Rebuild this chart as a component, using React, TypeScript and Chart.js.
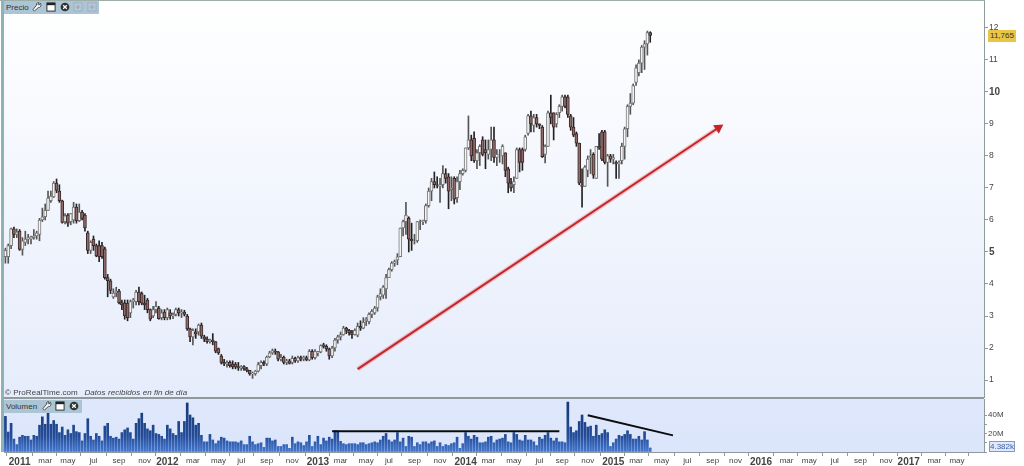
import React, { useEffect, useRef } from "react";
import { Chart, registerables } from "chart.js";

Chart.register(...registerables);

// [open, high, low, close] weekly candles
const candles2010 = [
  [4.85, 5.12, 4.65, 5.05], [4.85, 5.25, 4.65, 5.2], [5.2, 5.75, 5.1, 5.72], [5.72, 5.78, 5.45, 5.55], [5.55, 5.72, 5.45, 5.62],
];
const candles2011 = [
  [5.65, 5.7, 5.05, 5.08], [5.08, 5.45, 4.9, 5.35], [5.3, 5.65, 5.2, 5.4], [5.4, 5.55, 5.25, 5.45], [5.4, 5.5, 5.25, 5.47],
  [5.45, 5.7, 5.4, 5.5], [5.5, 5.65, 5.4, 5.6], [5.55, 6.05, 5.35, 6.0], [6.0, 6.37, 5.95, 6.1], [6.1, 6.5, 6.0, 6.3],
  [6.3, 6.9, 6.3, 6.68], [6.6, 6.9, 6.55, 6.75], [6.72, 7.2, 6.7, 7.15], [7.15, 7.28, 6.85, 6.92], [6.9, 7.1, 6.55, 6.6],
  [6.6, 6.62, 5.9, 5.92], [5.95, 6.2, 5.88, 6.13], [6.15, 6.2, 5.8, 5.9], [5.95, 6.2, 5.85, 6.2], [6.0, 6.55, 5.9, 6.4],
  [6.4, 6.5, 5.9, 5.98], [5.98, 6.5, 5.95, 6.25], [6.25, 6.3, 6.0, 6.05], [6.15, 6.2, 5.65, 5.75], [5.6, 5.65, 4.95, 5.05],
  [5.05, 5.35, 4.95, 5.3], [5.4, 5.5, 5.05, 5.2], [5.2, 5.25, 4.85, 4.88], [5.2, 5.35, 4.7, 4.85], [5.2, 5.3, 4.8, 4.85],
  [5.1, 5.15, 4.15, 4.2], [4.2, 4.3, 3.6, 4.1], [4.1, 4.15, 3.7, 3.8], [3.6, 3.85, 3.55, 3.72], [3.72, 3.9, 3.6, 3.78],
  [3.78, 3.83, 3.38, 3.42], [3.42, 3.5, 3.2, 3.35], [3.4, 3.5, 2.9, 3.0], [3.4, 3.5, 2.85, 2.95], [3.1, 3.5, 2.95, 3.45],
  [3.45, 3.55, 3.25, 3.5], [3.45, 3.8, 3.35, 3.75], [3.75, 3.9, 3.35, 3.45], [3.7, 3.75, 3.35, 3.4], [3.4, 3.65, 3.2, 3.35],
  [3.5, 3.55, 3.1, 3.2], [3.2, 3.22, 2.85, 2.9], [3.0, 3.3, 2.95, 3.2], [3.2, 3.45, 3.1, 3.3], [3.25, 3.3, 2.9, 2.92],
  [2.95, 3.2, 2.88, 3.1], [3.12, 3.2, 2.88, 2.95],
];
const candles2012 = [
  [2.95, 3.25, 2.88, 3.2], [3.1, 3.2, 2.9, 3.0], [3.0, 3.1, 2.92, 3.05], [3.05, 3.25, 3.0, 3.2], [3.2, 3.25, 3.0, 3.1],
  [3.1, 3.2, 2.95, 3.12], [3.12, 3.18, 3.0, 3.05], [3.0, 3.05, 2.55, 2.6], [2.6, 2.62, 2.2, 2.35], [2.35, 2.6, 2.1, 2.55],
  [2.5, 2.6, 2.3, 2.45], [2.5, 2.75, 2.4, 2.72], [2.72, 2.78, 2.3, 2.37], [2.35, 2.4, 2.2, 2.28], [2.28, 2.35, 2.15, 2.2],
  [2.2, 2.28, 2.15, 2.25], [2.25, 2.45, 2.1, 2.2], [2.2, 2.2, 1.85, 1.9], [1.98, 2.0, 1.8, 1.85], [1.75, 1.8, 1.5, 1.55],
  [1.55, 1.65, 1.45, 1.5], [1.5, 1.6, 1.4, 1.55], [1.55, 1.6, 1.4, 1.45], [1.5, 1.6, 1.35, 1.42], [1.5, 1.55, 1.35, 1.4],
  [1.42, 1.55, 1.3, 1.38], [1.38, 1.45, 1.3, 1.42], [1.42, 1.45, 1.3, 1.35], [1.35, 1.4, 1.25, 1.3], [1.3, 1.3, 1.15, 1.2],
  [1.2, 1.25, 1.05, 1.22], [1.2, 1.3, 1.15, 1.28], [1.28, 1.55, 1.25, 1.48], [1.45, 1.6, 1.35, 1.55], [1.55, 1.6, 1.45, 1.5],
  [1.5, 1.75, 1.45, 1.72], [1.72, 1.9, 1.7, 1.85], [1.85, 1.97, 1.8, 1.92], [1.9, 1.97, 1.8, 1.88], [1.88, 1.9, 1.6, 1.65],
  [1.65, 1.8, 1.6, 1.7], [1.72, 1.75, 1.5, 1.55], [1.55, 1.65, 1.48, 1.6], [1.6, 1.65, 1.5, 1.52], [1.55, 1.75, 1.5, 1.68],
  [1.68, 1.72, 1.55, 1.6], [1.6, 1.75, 1.55, 1.7], [1.7, 1.75, 1.6, 1.65], [1.65, 1.75, 1.6, 1.72], [1.7, 1.75, 1.6, 1.63],
  [1.63, 1.95, 1.6, 1.9], [1.9, 1.95, 1.65, 1.7], [1.7, 1.95, 1.65, 1.9],
];
const candles2013 = [
  [1.85, 1.9, 1.75, 1.88], [1.88, 2.1, 1.85, 2.08], [2.1, 2.15, 2.0, 2.05], [2.05, 2.1, 1.9, 1.97], [1.97, 2.0, 1.65, 1.75],
  [1.75, 2.05, 1.7, 2.0], [2.0, 2.3, 1.9, 2.25], [2.25, 2.4, 2.15, 2.35], [2.35, 2.5, 2.25, 2.42], [2.42, 2.68, 2.4, 2.62],
  [2.62, 2.65, 2.45, 2.55], [2.55, 2.58, 2.4, 2.48], [2.48, 2.55, 2.3, 2.42], [2.42, 2.6, 2.4, 2.55], [2.4, 2.78, 2.35, 2.68],
  [2.68, 2.85, 2.55, 2.62], [2.62, 2.95, 2.6, 2.8], [2.85, 2.95, 2.7, 2.9], [2.82, 3.1, 2.75, 3.05], [3.05, 3.2, 2.95, 3.15],
  [3.1, 3.3, 3.05, 3.25], [3.25, 3.65, 3.15, 3.6], [3.6, 3.85, 3.5, 3.7], [3.65, 3.95, 3.55, 3.9], [3.85, 4.3, 3.55, 4.2],
  [4.2, 4.5, 4.2, 4.45], [4.45, 4.7, 4.4, 4.65], [4.65, 4.75, 4.55, 4.7], [4.75, 4.95, 4.6, 4.85], [4.85, 5.75, 4.85, 5.75],
  [5.75, 6.0, 5.5, 5.95], [5.95, 6.55, 5.55, 6.15], [6.05, 6.1, 5.0, 5.4], [5.4, 5.9, 5.05, 5.35], [5.35, 5.55, 5.25, 5.35],
  [5.35, 5.95, 5.3, 5.95], [5.95, 6.0, 5.7, 5.95], [5.95, 6.0, 5.85, 5.98], [5.98, 6.5, 5.9, 6.45], [6.45, 7.0, 6.4, 6.9],
  [6.9, 7.3, 6.6, 7.2], [7.2, 7.5, 7.0, 7.1], [7.1, 7.35, 7.0, 7.08], [7.05, 7.3, 6.55, 7.1], [7.1, 7.7, 7.0, 7.45],
  [7.45, 7.6, 7.15, 7.3], [7.35, 7.45, 6.35, 6.9], [6.95, 7.35, 6.6, 7.0], [7.3, 7.35, 6.5, 6.65], [6.7, 7.35, 6.55, 7.2],
  [7.2, 7.55, 6.95, 7.45], [7.45, 7.6, 7.4, 7.55],
];
const candles2014 = [
  [7.55, 8.25, 7.5, 8.25], [8.25, 9.25, 8.2, 8.5], [8.5, 8.65, 7.85, 8.0], [8.55, 8.75, 7.8, 7.85], [7.85, 8.2, 7.6, 8.1],
  [8.1, 8.35, 7.7, 8.3], [8.5, 8.6, 8.0, 8.05], [8.2, 8.5, 7.6, 8.1], [8.05, 8.5, 7.9, 8.2], [8.2, 8.9, 7.85, 8.5],
  [8.5, 8.9, 7.8, 7.95], [7.95, 8.2, 7.7, 8.05], [8.05, 8.2, 7.8, 8.05], [8.0, 8.35, 7.75, 8.3], [8.1, 8.1, 7.35, 7.55],
  [7.6, 7.65, 6.85, 7.15], [7.15, 7.3, 6.9, 7.0], [7.1, 7.35, 6.85, 7.2], [7.3, 8.25, 7.3, 8.2], [8.2, 8.25, 7.5, 7.8],
  [8.2, 8.25, 7.55, 7.8], [8.2, 8.65, 8.15, 8.6], [8.7, 9.3, 8.65, 9.25], [9.25, 9.4, 8.75, 9.0], [8.95, 9.3, 8.75, 9.2],
  [9.2, 9.3, 8.9, 9.0], [9.0, 9.0, 8.85, 8.95], [8.9, 8.95, 7.95, 7.98], [8.05, 8.35, 7.78, 8.3], [8.3, 9.4, 8.3, 9.35],
  [9.35, 9.9, 9.0, 9.2], [9.35, 9.35, 8.5, 8.9], [9.0, 9.35, 8.9, 9.3], [9.35, 9.6, 9.2, 9.55], [9.55, 9.9, 9.4, 9.85],
  [9.85, 9.9, 9.5, 9.55], [9.85, 9.9, 9.2, 9.3], [9.25, 9.3, 8.8, 8.9], [8.9, 9.2, 8.6, 8.65], [8.7, 8.75, 8.3, 8.4],
  [8.4, 8.4, 7.1, 7.15], [7.1, 7.6, 6.4, 7.05], [7.05, 7.7, 7.05, 7.65], [7.55, 8.0, 7.35, 7.9], [7.95, 8.2, 7.45, 8.0],
  [8.05, 8.1, 7.3, 7.4], [7.3, 8.3, 7.3, 8.3], [8.3, 8.7, 8.2, 8.25], [8.75, 8.8, 7.85, 7.9], [8.75, 8.8, 7.75, 7.8],
  [7.8, 8.05, 7.05, 8.0], [8.0, 8.05, 7.8, 7.9],
];
const candles2015 = [
  [7.9, 8.05, 7.75, 7.95], [7.8, 7.85, 7.3, 7.75], [7.75, 7.85, 7.3, 7.8], [7.85, 8.4, 7.75, 8.3], [8.3, 8.9, 7.9, 8.85],
  [8.85, 9.6, 8.6, 9.55], [9.55, 9.95, 9.3, 9.65], [9.65, 10.25, 9.6, 10.2], [10.3, 10.85, 10.2, 10.75], [10.6, 11.0, 10.5, 10.9],
  [10.9, 11.45, 10.6, 11.4], [11.4, 11.6, 10.7, 11.5], [11.5, 11.9, 11.15, 11.85], [11.85, 11.88, 11.55, 11.765],
];

// weekly volume in millions
const volume2010 = [38.5, 21.6, 31, 14, 8];
const volume2011 = [16, 18, 17, 17, 13, 18, 17, 29, 38, 30, 42, 30, 34, 30, 21, 27, 18, 24, 20, 29, 22, 21, 12, 20, 36, 17, 13, 20, 17, 12, 28, 31, 17, 15, 16, 14, 21, 24, 26, 21, 14, 31, 36, 42, 31, 25, 23, 29, 20, 19, 17, 14];
const volume2012 = [29, 25, 20, 18, 33, 21, 33, 53, 40, 37, 29, 31, 18, 11, 11, 19, 13, 9, 12, 16, 15, 12, 11, 11, 11, 10, 12, 8, 8, 17, 11, 8, 9, 10, 5, 15, 15, 12, 13, 6, 6, 8, 8, 4, 16, 9, 11, 10, 7, 11, 18, 6, 11];
const volume2013 = [17, 8, 15, 12, 16, 14, 23, 23, 11.5, 9, 8, 9, 9, 9, 8, 10, 10, 8, 9, 10, 11, 10, 13, 17, 20, 13, 11, 13, 21, 11, 15, 6, 17, 16, 6, 10, 8, 11, 11, 9, 11, 12, 6, 10, 6, 8, 7, 9, 10, 16, 4, 9];
const volume2014 = [21, 17, 14, 18, 16, 10, 10, 11, 16, 17, 10, 13, 14, 15, 19, 11, 10, 21, 19, 13, 12, 18, 13, 13, 11, 7, 16, 14, 18, 21, 15, 12, 15, 11, 11, 10, 54, 27, 21, 23, 33, 40, 32, 27, 28, 17, 29, 18, 20, 24, 21, 6];
const volume2015 = [10, 14, 18, 17, 19, 23, 19, 14, 14, 17, 13, 22, 13, 4.382];

// annotations: [week index, value]
const trendArrow = [[124, 1.34], [251, 8.88]];
const flatVolumeLine = [[115, 22.4], [195, 22.4]];
const fallingVolumeLine = [[205, 39.7], [235, 18]];

const monthNames = ["ene", "feb", "mar", "abr", "may", "jun", "jul", "ago", "sep", "oct", "nov", "dic"];
const boldPriceTicks = [5, 10];
const labelledVolumeTicks = [20, 40];
const WEEK_COUNT = 345;

const candles = [...candles2010, ...candles2011, ...candles2012, ...candles2013, ...candles2014, ...candles2015];
const volumes = [...volume2010, ...volume2011, ...volume2012, ...volume2013, ...volume2014, ...volume2015];

const weekLabels: string[] = [];
const tickText: Record<string, string> = {};
for (let i = 0; i < WEEK_COUNT; i++) {
  const d = new Date(Date.UTC(2010, 10, 29 + i * 7));
  const key = d.toISOString().slice(0, 10);
  weekLabels.push(key);
  const y = d.getUTCFullYear();
  const m = d.getUTCMonth();
  if (d.getUTCDate() <= 7 && m % 2 === 0 && y >= 2011 && (y < 2017 || m <= 4)) {
    tickText[key] = m === 0 ? String(y) : monthNames[m];
  }
}

const FONT = '"Liberation Sans", Arial, sans-serif';
const AXIS = "#8f9a9c";
const TEXT = "#444444";
const line = (pts: number[][]) => pts.map(([i, v]) => ({ x: weekLabels[i], y: v }));

const paneBackground = (top: string, bottom: string) => ({
  id: "paneBackground",
  beforeDraw(chart: any) {
    const { ctx, chartArea: a } = chart;
    const g = ctx.createLinearGradient(0, a.top, 0, a.bottom);
    g.addColorStop(0, top);
    g.addColorStop(1, bottom);
    ctx.save();
    ctx.fillStyle = g;
    ctx.fillRect(a.left, a.top, a.right - a.left, a.bottom - a.top);
    ctx.strokeStyle = AXIS;
    ctx.lineWidth = 1;
    ctx.beginPath();
    ctx.moveTo(a.left, a.top - 0.5);
    ctx.lineTo(a.right, a.top - 0.5);
    ctx.moveTo(a.left, a.bottom + 0.5);
    ctx.lineTo(a.right, a.bottom + 0.5);
    ctx.stroke();
    ctx.restore();
  },
});

const fitRight = (scale: any) => {
  scale.width = 40;
  scale.paddingTop = 0;
  scale.paddingBottom = 0;
};

const Icon = ({ x, y, kind, faded }: { x: number; y: number; kind: string; faded?: boolean }) => (
  <svg width={10} height={10} viewBox="0 0 11 11" style={{ position: "absolute", left: x, top: y, opacity: faded ? 0.35 : 1 }}>
    {kind === "wrench" && <path d="M9.5 1.5 L7.5 3.5 L6.5 2.5 L8 1 C6 0 4.5 1.5 5 3.5 L1 8.5 L2.5 10 L7 6 C9 6.5 10.5 4.5 9.5 1.5Z" fill="#fff" stroke="#333" strokeWidth="0.9" />}
    {kind === "window" && <g><rect x="1" y="1" width="9" height="9" fill="#fff" stroke="#222" strokeWidth="1" /><rect x="1" y="1" width="9" height="2.5" fill="#222" /></g>}
    {kind === "close" && <g><circle cx="5.5" cy="5.5" r="4.8" fill="#333" /><path d="M3.5 3.5 L7.5 7.5 M7.5 3.5 L3.5 7.5" stroke="#fff" strokeWidth="1.4" /></g>}
    {kind === "plus" && <g><rect x="1" y="1" width="9" height="9" fill="#ccd" stroke="#889" /><path d="M5.5 3 V8 M3 5.5 H8" stroke="#777" strokeWidth="1.2" /></g>}
  </svg>
);

const Abs = ({ style, children }: any) => <div style={{ position: "absolute", whiteSpace: "nowrap", fontFamily: FONT, ...style }}>{children}</div>;

export default function App() {
  const priceRef = useRef<HTMLCanvasElement>(null);
  const volumeRef = useRef<HTMLCanvasElement>(null);

  useEffect(() => {
    document.body.style.margin = "0";
    document.body.style.overflow = "hidden";
    const isUp = (c: number[]) => c[3] >= c[0];

    const price = new Chart(priceRef.current!, {
      type: "bar",
      data: {
        labels: weekLabels,
        datasets: [
          {
            type: "line", order: -2, data: line(trendArrow) as any,
            borderColor: "#c4242a", borderWidth: 2,
            pointStyle: "triangle", pointRotation: 56,
            pointRadius: (c: any) => (c.dataIndex === 1 ? 4 : 0),
            pointBackgroundColor: "#c4242a", pointBorderColor: "#c4242a",
          } as any,
          {
            type: "line", order: -1, data: line(trendArrow) as any,
            borderColor: "rgba(235,130,130,0.45)", borderWidth: 4.5, pointRadius: 0,
          } as any,
          {
            order: 1, grouped: false, data: candles.map((c) => [c[0], c[3]]),
            barThickness: 3, borderWidth: 1, borderSkipped: false,
            borderColor: candles.map((c) => (isUp(c) ? "#777777" : "#3a2828")),
            backgroundColor: candles.map((c) => (isUp(c) ? "#f4f4f4" : "#8f6a6a")),
          } as any,
          {
            order: 2, grouped: false, data: candles.map((c) => [c[2], c[1]]),
            barThickness: 1, borderWidth: 0,
            backgroundColor: candles.map((c) => (isUp(c) ? "#555" : "#222")),
          } as any,
        ],
      },
      plugins: [paneBackground("#ffffff", "#e5ecfb")],
      options: {
        animation: false, responsive: false,
        layout: { autoPadding: false, padding: { left: 4, right: 0, top: 1, bottom: 1 } },
        plugins: { legend: { display: false }, tooltip: { enabled: false } },
        scales: {
          x: { display: false, offset: true },
          y: {
            position: "right", min: 0.47, max: 12.84,
            afterFit: fitRight,
            afterBuildTicks: (s: any) => { s.ticks = s.ticks.filter((t: any) => Number.isInteger(t.value)); },
            grid: { drawOnChartArea: false, tickLength: 4, tickColor: AXIS },
            border: { color: AXIS },
            ticks: {
              stepSize: 1, padding: 1, color: TEXT, autoSkip: false,
              font: (c: any) => ({ family: FONT, size: boldPriceTicks.includes(c.tick?.value) ? 10 : 8.5, weight: boldPriceTicks.includes(c.tick?.value) ? "bold" : "normal" }),
            },
          },
        },
      } as any,
    });

    const volume = new Chart(volumeRef.current!, {
      type: "bar",
      data: {
        labels: weekLabels,
        datasets: [
          { type: "line", order: -2, data: line(flatVolumeLine) as any, borderColor: "#0c0c0c", borderWidth: 2, pointRadius: 0 } as any,
          { type: "line", order: -1, data: line(fallingVolumeLine) as any, borderColor: "#0c0c0c", borderWidth: 2, pointRadius: 0 } as any,
          {
            order: 1, data: volumes, barThickness: 2, borderWidth: 0,
            backgroundColor: (c: any) => {
              const a = c.chart.chartArea;
              if (!a) return "#2f5ea8";
              const g = c.chart.ctx.createLinearGradient(0, a.top, 0, a.bottom);
              g.addColorStop(0, "#143674");
              g.addColorStop(0.7, "#234c98");
              g.addColorStop(1, "#4478d0");
              return g;
            },
          } as any,
        ],
      },
      plugins: [paneBackground("#dfe8fb", "#dbe5fb")],
      options: {
        animation: false, responsive: false,
        layout: { autoPadding: false, padding: { left: 4, right: 0, top: 1, bottom: 0 } },
        plugins: { legend: { display: false }, tooltip: { enabled: false } },
        scales: {
          x: {
            offset: true,
            afterFit: (s: any) => { s.height = 14; s.paddingLeft = 0; s.paddingRight = 0; },
            afterBuildTicks: (s: any) => { s.ticks = s.ticks.filter((t: any) => tickText[weekLabels[t.value]]); },
            grid: { drawOnChartArea: false, tickLength: 4, tickColor: AXIS },
            border: { display: false },
            ticks: {
              autoSkip: false, maxRotation: 0, padding: 0, color: TEXT,
              callback(this: any, v: any) { return tickText[weekLabels[v]]; },
              font: (c: any) => {
                const isYear = /^\d/.test(tickText[weekLabels[c.tick?.value]] || "");
                return { family: FONT, size: isYear ? 10 : 8, weight: isYear ? "bold" : "normal" };
              },
            },
          },
          y: {
            position: "right", min: 0, max: 57.3,
            afterFit: fitRight,
            afterBuildTicks: (s: any) => { s.ticks = s.ticks.filter((t: any) => t.value % 10 === 0); },
            grid: { drawOnChartArea: false, tickLength: 3, tickColor: AXIS },
            border: { color: AXIS },
            ticks: {
              stepSize: 10, padding: 1, color: TEXT, autoSkip: false,
              callback: (v: any) => (labelledVolumeTicks.includes(v) ? `${v}M` : ""),
              font: { family: FONT, size: 8 },
            },
          },
        },
      } as any,
    });

    return () => {
      price.destroy();
      volume.destroy();
    };
  }, []);

  return (
    <div style={{ position: "absolute", left: 0, top: 0, width: 1024, height: 466, overflow: "hidden", background: "#fff" }}>
      <canvas ref={priceRef} width={1024} height={398} style={{ position: "absolute", left: 0, top: 0, display: "block" }} />
      <canvas ref={volumeRef} width={1024} height={68} style={{ position: "absolute", left: 0, top: 398, display: "block" }} />

      <div style={{ position: "absolute", left: 0, top: 0, width: 985, height: 1, background: "#9cadaa" }} />
      <div style={{ position: "absolute", left: 1, top: 0, width: 3, height: 452, background: "#8fb2b8" }} />

      <div style={{ position: "absolute", left: 4, top: 1, width: 95, height: 13, background: "#abc5d4" }} />
      <Abs style={{ left: 6, top: 1, fontSize: 8, color: "#333", lineHeight: "13px" }}>Precio</Abs>
      <Icon x={32} y={2} kind="wrench" />
      <Icon x={46} y={2} kind="window" />
      <Icon x={60} y={2} kind="close" />
      <Icon x={73} y={2} kind="plus" faded />
      <Icon x={87} y={2} kind="plus" faded />

      <Abs style={{ left: 5, top: 387, fontSize: 8, color: "#444", lineHeight: "12px", letterSpacing: "0.05px" }}>
        © ProRealTime.com&nbsp;&nbsp; <i>Datos recibidos en fin de día</i>
      </Abs>

      <div style={{ position: "absolute", left: 4, top: 400, width: 78, height: 13, background: "#abc5d4" }} />
      <Abs style={{ left: 6, top: 400, fontSize: 8, color: "#333", lineHeight: "13px" }}>Volumen</Abs>
      <Icon x={42} y={401} kind="wrench" />
      <Icon x={55} y={401} kind="window" />
      <Icon x={69} y={401} kind="close" />

      <Abs style={{ left: 988, top: 30, width: 28, height: 12, background: "#e9c545", fontSize: 8, lineHeight: "12px", color: "#333", textAlign: "center" }}>11,765</Abs>
      <Abs style={{ left: 989, top: 441, width: 24, height: 9, background: "#e0e8fb", border: "1px solid #7f9bc4", fontSize: 8, lineHeight: "9px", color: "#3a62a8", textAlign: "center" }}>4.382k</Abs>
    </div>
  );
}
